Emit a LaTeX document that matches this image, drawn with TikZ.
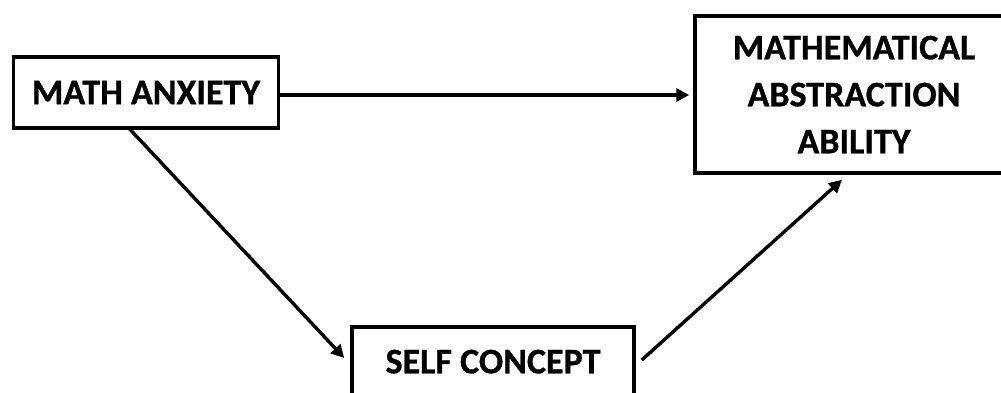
\documentclass[tikz,border=0pt]{standalone}
\usepackage{fontspec}
\setmainfont{Carlito}[BoldFeatures={FakeBold=0.8}]
\usetikzlibrary{arrows.meta,calc}
\tikzset{
  box/.style={draw=black, line width=3.5pt, fill=white, inner sep=0pt, align=center,
    font=\bfseries\fontsize{36}{47}\selectfont},
  conn/.style={line width=3.4pt, -{Triangle[length=13pt,width=13pt]}}
}
\begin{document}
\begin{tikzpicture}[x=1pt,y=-1pt]
\useasboundingbox (0,0) rectangle (1001,392);
\clip (0,0) rectangle (1001,392);
\fill[white] (0,0) rectangle (1001,392);
\node[box, minimum width=265pt, minimum height=71pt] (a) at (146,92.5) {MATH ANXIETY};
\node[box, minimum width=318pt, minimum height=157pt] (b) at (854,94.5) {MATHEMATICAL\\ABSTRACTION\\ABILITY};
\node[box, minimum width=282pt, minimum height=76pt] (c) at (493,365) {\raisebox{7pt}{SELF CONCEPT}};
\draw[conn] ($(a.east)+(0,2.5)$) -- ($(b.west)+(-4,0.5)$);
\draw[conn] ($(a.south)+(-17.5,-2)$) -- ($(c.west)+(-6,-7)$);
\draw[conn] ($(c.east)+(6,-5)$) -- ($(b.south)+(-12,5)$);
\end{tikzpicture}
\end{document}
